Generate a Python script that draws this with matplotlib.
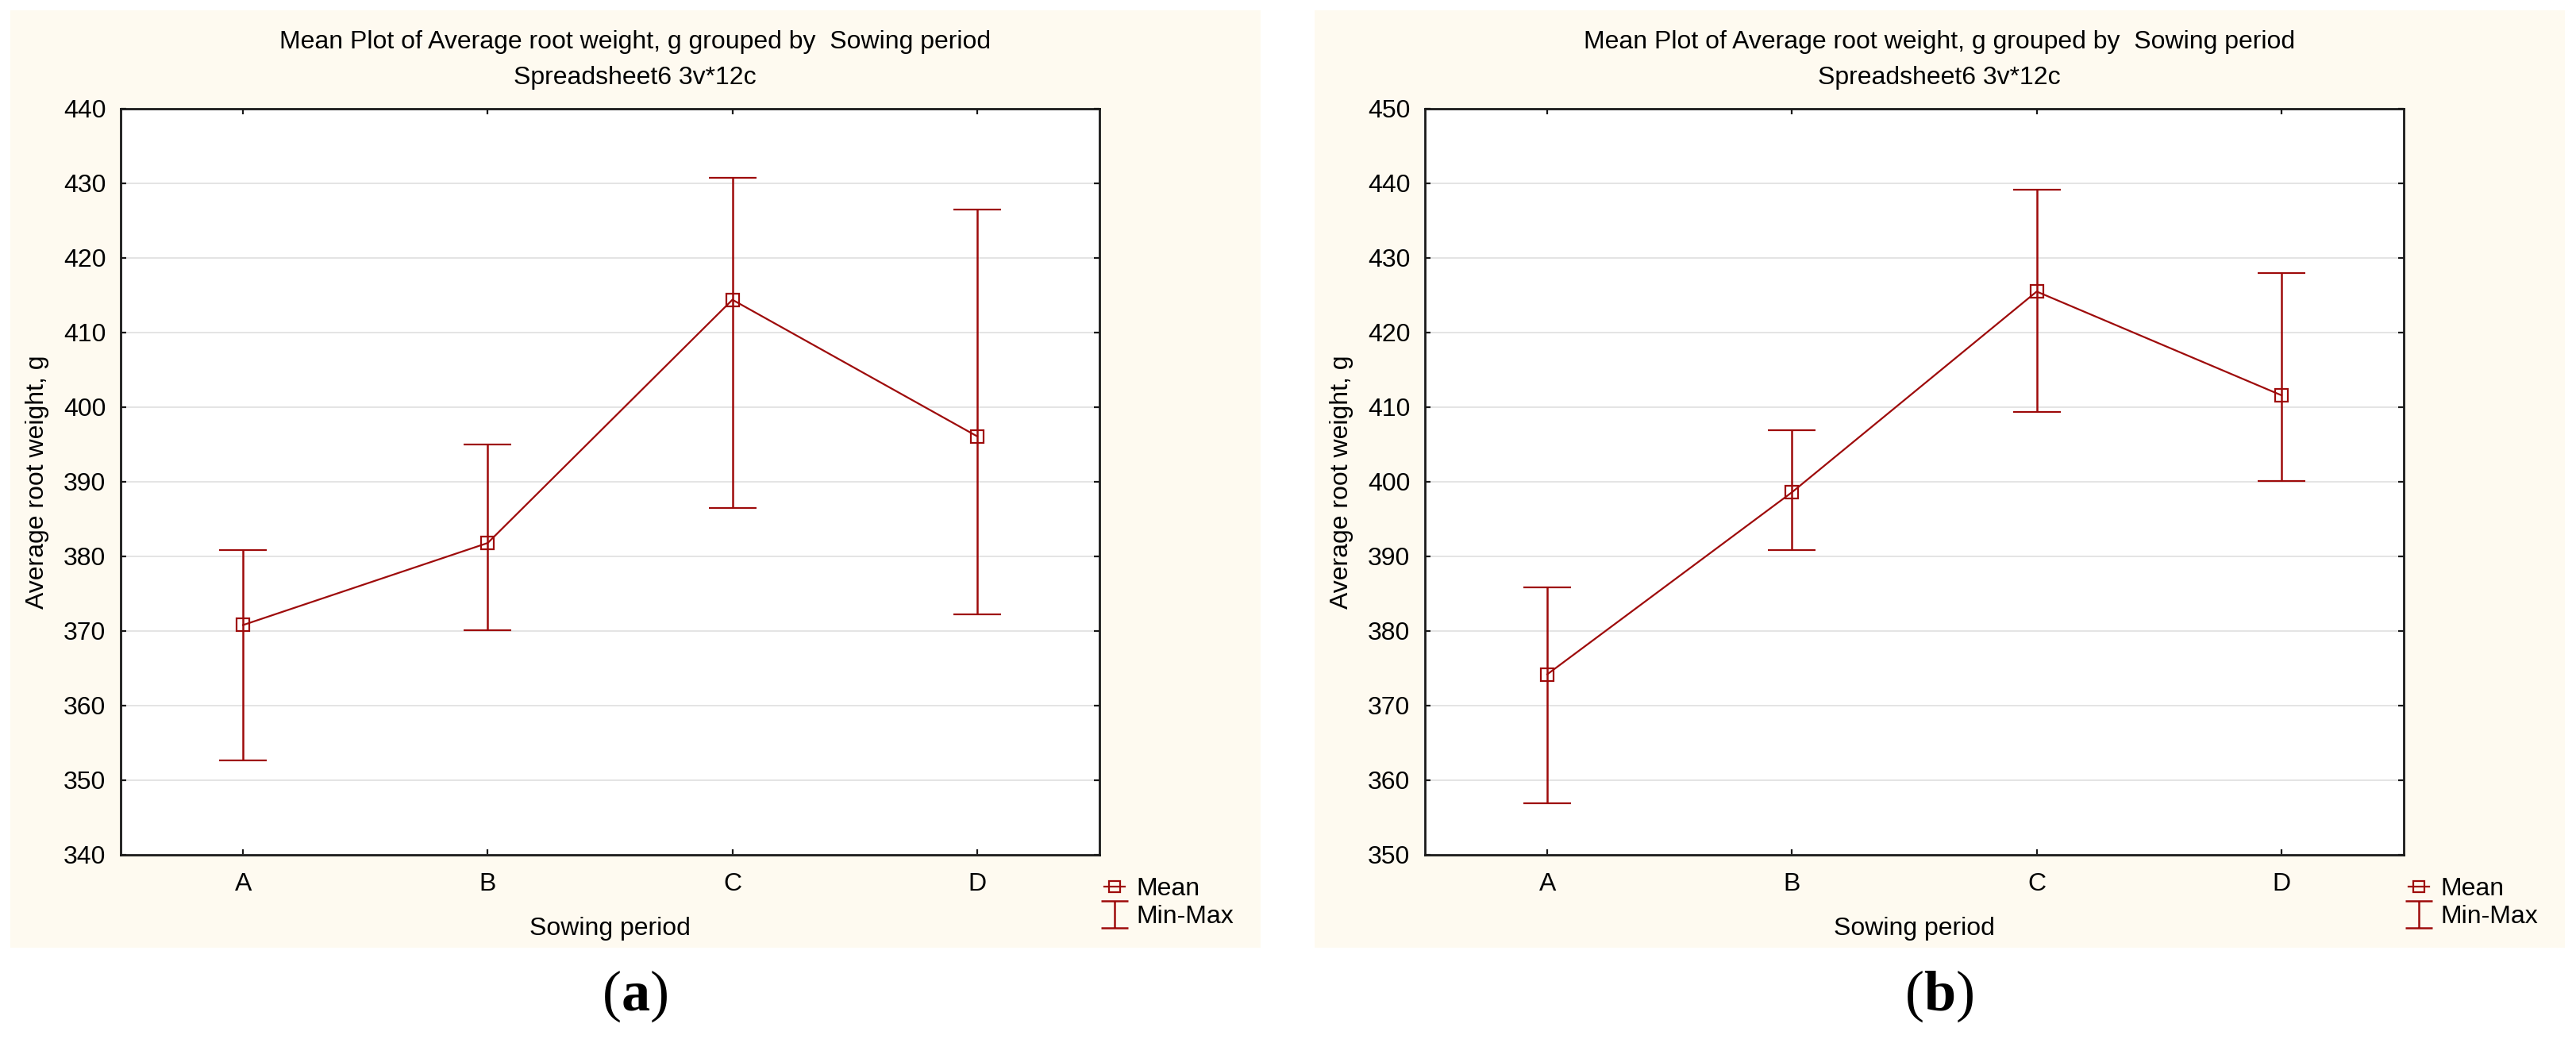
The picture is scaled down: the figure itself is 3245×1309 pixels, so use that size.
import matplotlib
matplotlib.use("Agg")
import matplotlib.pyplot as plt
from matplotlib.lines import Line2D
from matplotlib.patches import Rectangle
from matplotlib.path import Path

# data
periods = ["A", "B", "C", "D"]

mean_a = [370.8, 381.8, 414.4, 396.1]
min_a = [352.7, 370.1, 386.5, 372.2]
max_a = [380.8, 395.0, 430.7, 426.5]
yticks_a = [340, 350, 360, 370, 380, 390, 400, 410, 420, 430, 440]

mean_b = [374.2, 398.6, 425.5, 411.6]
min_b = [356.9, 390.8, 409.4, 400.1]
max_b = [385.8, 406.9, 439.2, 428.0]
yticks_b = [350, 360, 370, 380, 390, 400, 410, 420, 430, 440, 450]

title1 = "Mean Plot of Average root weight, g grouped by  Sowing period"
title2 = "Spreadsheet6 3v*12c"
panel_labels = ["a", "b"]

RED = "#9E0B0B"
CREAM = "#FEFAF0"
FS = 23

plt.rcParams['font.family'] = ['Liberation Sans', 'DejaVu Sans']
plt.rcParams['mathtext.fontset'] = 'custom'
plt.rcParams['mathtext.rm'] = 'Liberation Serif'
plt.rcParams['mathtext.bf'] = 'Liberation Serif:bold'

W, H = 3245, 1309
fig = plt.figure(figsize=(W / 100, H / 100), dpi=100)

# I-beam marker for the Min-Max legend entry
ibeam = Path([(-0.5, -0.5), (0.5, -0.5), (0, -0.5), (0, 0.5),
              (-0.5, 0.5), (0.5, 0.5)],
             [Path.MOVETO, Path.LINETO, Path.MOVETO, Path.LINETO,
              Path.MOVETO, Path.LINETO])


def draw_panel(x0, means, mins, maxs, yticks, label):
    # cream background of the panel
    fig.patches.append(Rectangle(((x0 - 139) / W, (H - 1194) / H),
                                 1575 / W, 1181 / H,
                                 transform=fig.transFigure,
                                 facecolor=CREAM, edgecolor='none',
                                 zorder=-10))
    cx = (x0 - 139 + 787) / W
    fig.text(cx, 1 - 53 / H, title1, ha='center', va='center', fontsize=FS)
    fig.text(cx, 1 - 98 / H, title2, ha='center', va='center', fontsize=FS)
    fig.text(cx, 1 - 1255 / H, "(" + r"$\mathbf{" + label + "}$" + ")",
             ha='center', va='center', fontsize=52,
             family='Liberation Serif')

    ax = fig.add_axes([x0 / W, (H - 1077) / H, 1233 / W, 940 / H])
    ax.set_facecolor('white')
    x = list(range(len(periods)))
    low = [m - lo for m, lo in zip(means, mins)]
    high = [hi - m for m, hi in zip(means, maxs)]
    ax.errorbar(x, means, yerr=[low, high], fmt='-s', color=RED,
                lw=1.6, elinewidth=1.8, capsize=21.5, capthick=1.8,
                ms=11, mfc='none', mec=RED, mew=1.6, zorder=3)

    ax.set_xlim(-0.5, len(periods) - 0.5)
    ax.set_ylim(yticks[0], yticks[-1])
    ax.set_xticks(x)
    ax.set_xticklabels(periods)
    ax.set_yticks(yticks)
    ax.grid(axis='y', color='#dcdcdc', lw=1.1)
    ax.set_axisbelow(True)
    ax.tick_params(direction='in', length=5, width=1.6, labelsize=FS,
                   top=True, right=True, color='#1a1a1a')
    ax.tick_params(axis='y', pad=13.5)
    ax.tick_params(axis='x', pad=16)
    for sp in ax.spines.values():
        sp.set_linewidth(2)
        sp.set_color('#1a1a1a')

    ax.set_ylabel("Average root weight, g", fontsize=FS)
    ax.yaxis.set_label_coords(-0.073, 0.5)
    ax.set_xlabel("Sowing period", fontsize=FS)
    ax.xaxis.set_label_coords(0.5, -0.083)

    handles = [Line2D([], [], color=RED, marker='s', ms=10, mfc='none',
                      mew=1.6, lw=1.6),
               Line2D([], [], color=RED, marker=ibeam, ms=24, mfc='none',
                      mew=1.8, ls='none')]
    ax.legend(handles, ["Mean", "Min-Max"], loc='center left',
              bbox_to_anchor=(1.0, -0.0645), frameon=False, fontsize=FS,
              handlelength=0.8, handletextpad=0.45, labelspacing=0.15,
              borderpad=0, borderaxespad=0.2)
    return ax


draw_panel(152, mean_a, min_a, max_a, yticks_a, panel_labels[0])
draw_panel(1795, mean_b, min_b, max_b, yticks_b, panel_labels[1])

fig.savefig("out.png", dpi=100, facecolor='white')
